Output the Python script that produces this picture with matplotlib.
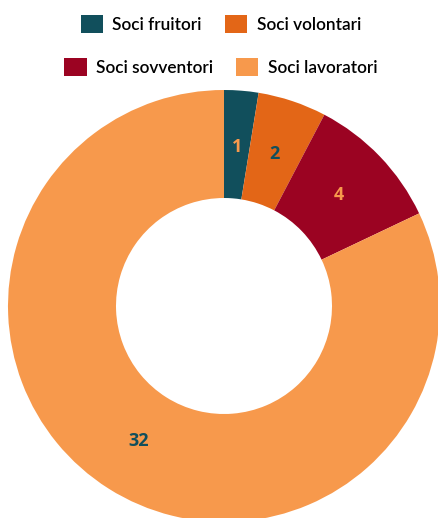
import matplotlib.pyplot as plt
from matplotlib.patches import Patch

# data
categories = ['Soci fruitori', 'Soci volontari', 'Soci sovventori', 'Soci lavoratori']
values = [1, 2, 4, 32]
colors = ['#114f5c', '#e36617', '#9b0322', '#f7994c']
label_colors = ['#f7994c', '#114f5c', '#f7994c', '#114f5c']

fig = plt.figure(figsize=(4.39, 5.18), dpi=100)
ax = fig.add_axes([0, 0, 1, 1])

total = sum(values)
wedges, texts, autotexts = ax.pie(
    values, colors=colors, radius=216, center=(224, 212),
    startangle=90, counterclock=False,
    wedgeprops=dict(width=108, linewidth=0),
    autopct=lambda p: f'{round(p * total / 100):d}', pctdistance=0.74,
    frame=True)
ax.set_xlim(0, 439)
ax.set_ylim(0, 518)
ax.set_aspect('equal')
ax.axis('off')
for t, c in zip(autotexts, label_colors):
    t.set_color(c)
    t.set_fontsize(13)
    t.set_fontweight('bold')
    t.set_family('Open Sans')

# legend drawn as two centred rows
handles = [Patch(facecolor=c, edgecolor='none') for c in colors]
kw = dict(ncol=2, frameon=False,
          prop={'family': 'Lato', 'size': 12.4, 'weight': 'semibold'},
          handlelength=1.28, handleheight=1.28, handletextpad=0.55,
          columnspacing=1.35, borderpad=0, borderaxespad=0)
leg1 = fig.legend(handles[:2], categories[:2], loc='center',
                  bbox_to_anchor=(221 / 439, 1 - 24 / 518), **kw)
leg2 = fig.legend(handles[2:], categories[2:], loc='center',
                  bbox_to_anchor=(221 / 439, 1 - 67 / 518), **kw)

fig.savefig('out.png', dpi=100)
